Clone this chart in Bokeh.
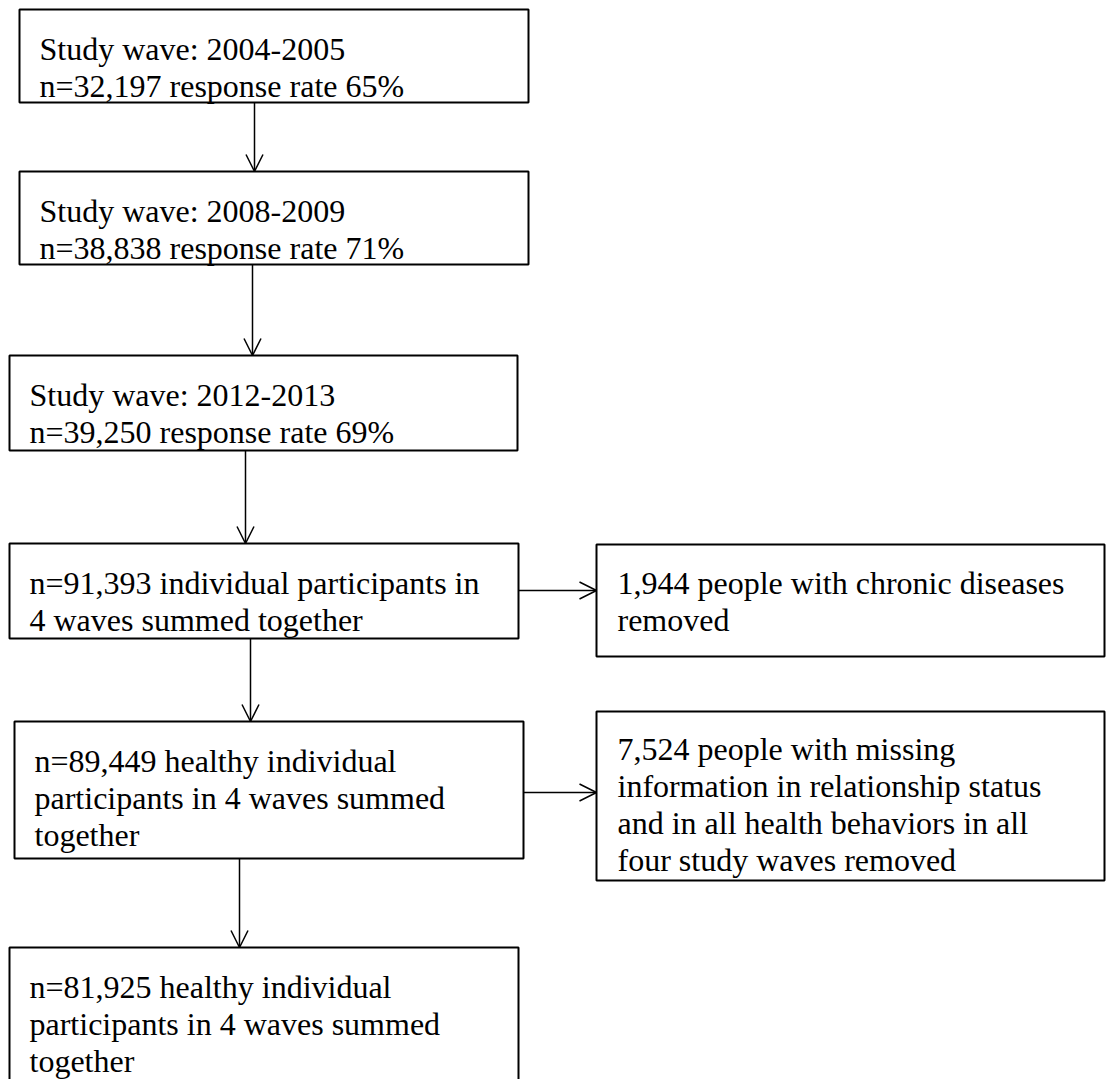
from bokeh.plotting import figure
from bokeh.models import Range1d, ColumnDataSource, Arrow, OpenHead
from bokeh.core.properties import value
from bokeh.embed import file_html
from bokeh.resources import INLINE

wave_years = ["2004-2005", "2008-2009", "2012-2013"]
wave_n = ["32,197", "38,838", "39,250"]
response_rates = [65, 71, 69]
pooled_n = ["91,393", "89,449", "81,925"]
excluded_n = ["1,944", "7,524"]

box_texts = [
    ["Study wave: " + wave_years[0], "n=" + wave_n[0] + " response rate " + str(response_rates[0]) + "%"],
    ["Study wave: " + wave_years[1], "n=" + wave_n[1] + " response rate " + str(response_rates[1]) + "%"],
    ["Study wave: " + wave_years[2], "n=" + wave_n[2] + " response rate " + str(response_rates[2]) + "%"],
    ["n=" + pooled_n[0] + " individual participants in", "4 waves summed together"],
    ["n=" + pooled_n[1] + " healthy individual", "participants in 4 waves summed", "together"],
    ["n=" + pooled_n[2] + " healthy individual", "participants in 4 waves summed", "together"],
    [excluded_n[0] + " people with chronic diseases", "removed"],
    [excluded_n[1] + " people with missing", "information in relationship status",
     "and in all health behaviors in all", "four study waves removed"],
]

# ---- layout (pixel coordinates of the page) ----
# left, right, top, bottom, text x, first baseline
box_layout = [
    (19, 528, 9, 102, 39, 48),
    (19, 528, 171, 264, 39, 210),
    (9, 517, 355, 450, 29, 394),
    (9, 518, 543, 638, 29, 582),
    (14, 523, 721, 858, 34, 760),
    (9, 518, 947, 1100, 29, 986),
    (596, 1104, 544, 656, 617, 582),
    (596, 1104, 711, 880, 617, 748),
]
line_step = 37

# arrows: (x0, y0, x1, y1)
arrow_layout = [
    (254, 102, 254, 171),
    (252, 264, 252, 355),
    (245, 450, 245, 543),
    (250, 638, 250, 721),
    (239, 858, 239, 947),
    (518, 590, 596, 590),
    (523, 792, 596, 792),
]

W, H = 1107, 1079
p = figure(width=W, height=H, x_range=Range1d(0, W), y_range=Range1d(H, 0),
           output_backend="svg", toolbar_location=None, min_border=0,
           x_axis_location=None, y_axis_location=None)
p.grid.visible = False
p.outline_line_color = None
p.background_fill_color = "white"
p.border_fill_color = "white"

boxes = ColumnDataSource(dict(
    left=[b[0] for b in box_layout], right=[b[1] for b in box_layout],
    top=[b[2] for b in box_layout], bottom=[b[3] for b in box_layout]))
p.quad(left="left", right="right", top="top", bottom="bottom", source=boxes,
       fill_color="white", line_color="black", line_width=2)

tx, ty, tt = [], [], []
for lines, b in zip(box_texts, box_layout):
    for i, s in enumerate(lines):
        tx.append(b[4])
        ty.append(b[5] + i * line_step)
        tt.append(s)
p.text(x=tx, y=ty, text=tt, text_font=value("Liberation Serif"), text_font_size="32px",
       text_color="black", text_align="left", text_baseline="alphabetic")

arr = ColumnDataSource(dict(x0=[a[0] for a in arrow_layout], y0=[a[1] for a in arrow_layout],
                            x1=[a[2] for a in arrow_layout], y1=[a[3] for a in arrow_layout]))
p.add_layout(Arrow(end=OpenHead(size=17, line_width=1.5, line_color="black"),
                   x_start="x0", y_start="y0", x_end="x1", y_end="y1",
                   line_width=1.5, line_color="black", source=arr))

open("out.html", "w").write(file_html(p, INLINE))
